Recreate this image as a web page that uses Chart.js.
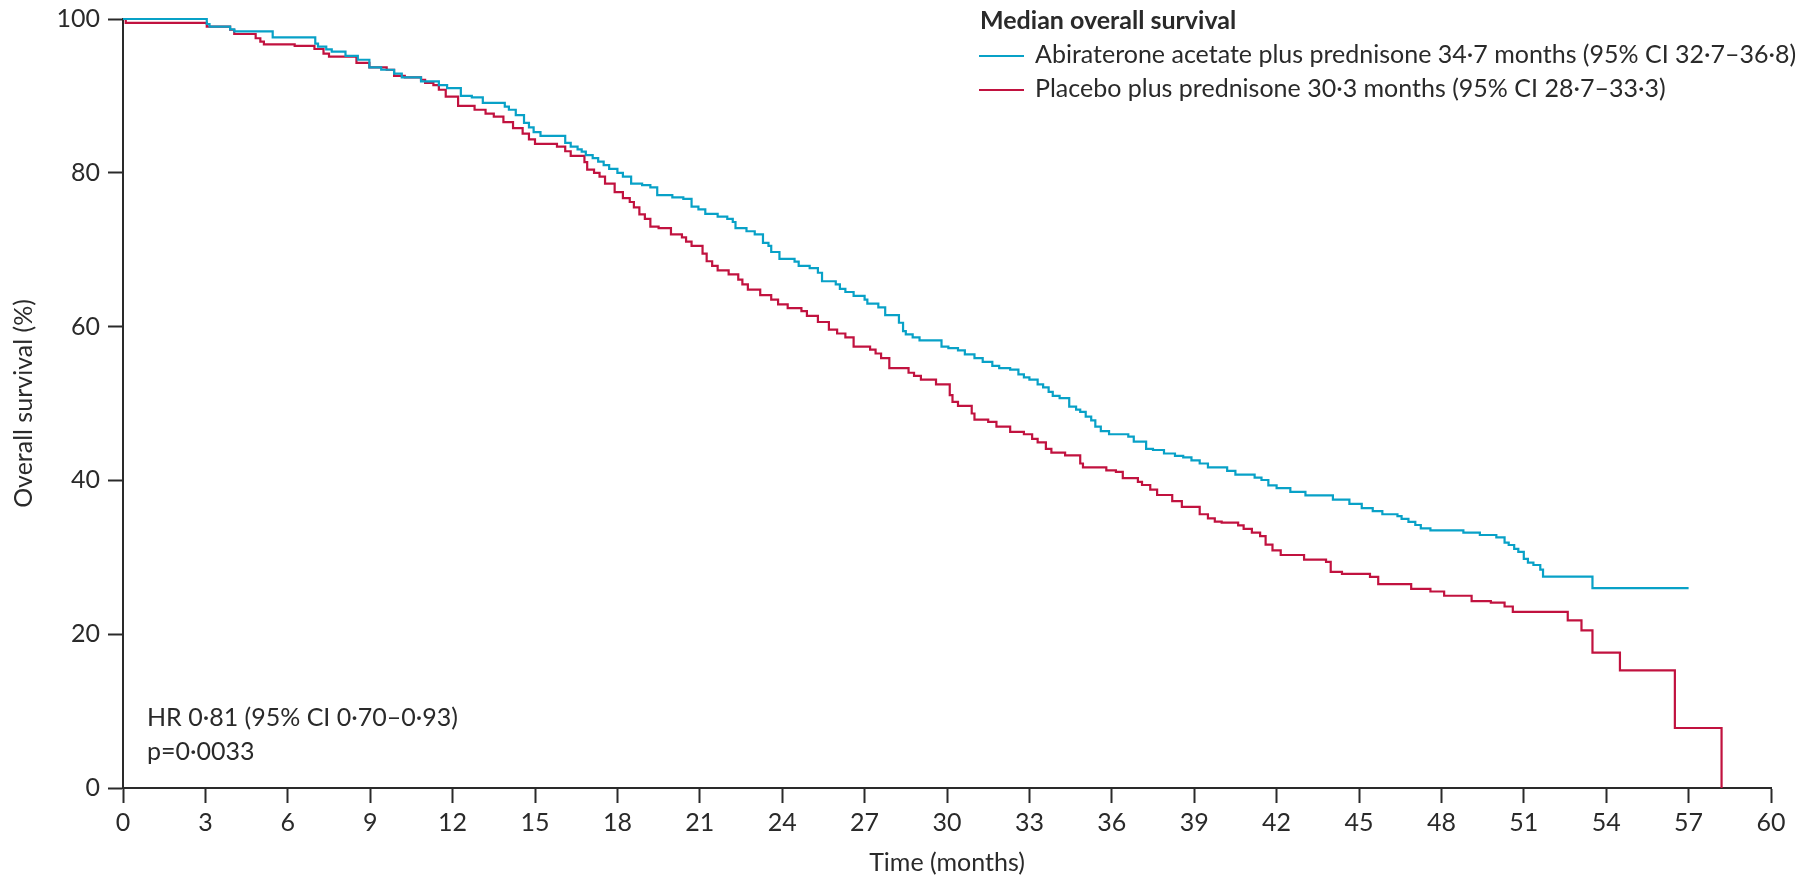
<!DOCTYPE html>
<html>
<head>
<meta charset="utf-8">
<script src="https://cdn.jsdelivr.net/npm/chart.js@4.4.1/dist/chart.umd.min.js"></script>
<style>
  html, body { margin: 0; padding: 0; background: #ffffff; }
  #wrap { width: 1802px; height: 881px; position: relative; }
  canvas { display: block; }
</style>
</head>
<body>
<div id="wrap"><canvas id="km" width="1802" height="881"></canvas></div>
<script>
// Kaplan-Meier overall survival, two arms.
const xTicks = [0, 3, 6, 9, 12, 15, 18, 21, 24, 27, 30, 33, 36, 39, 42, 45, 48, 51, 54, 57, 60];
const yTicks = [0, 20, 40, 60, 80, 100];

// Abiraterone acetate plus prednisone: event times (months) and survival after each step (%)
const abiTime = [0, 3.05, 3.15, 3.9, 4.05, 5.45, 7.0, 7.1, 7.4, 7.6, 8.1, 8.55, 8.97, 9.4, 9.87, 10.15, 10.85, 11.5, 11.8, 12.3,
  12.7, 13.1, 13.9, 14.05, 14.3, 14.6, 14.78, 14.95, 15.2, 16.1, 16.3, 16.55, 16.7, 16.85, 17.1, 17.3, 17.5, 17.7, 18.0, 18.2,
  18.5, 18.9, 19.2, 19.45, 20.0, 20.4, 20.7, 20.95, 21.2, 21.65, 22.0, 22.2, 22.3, 22.7, 23.0, 23.3, 23.5, 23.6, 23.9, 24.45,
  24.6, 25.0, 25.3, 25.45, 25.95, 26.1, 26.3, 26.6, 27.0, 27.1, 27.5, 27.75, 28.25, 28.4, 28.5, 28.75, 29.0, 29.8, 30.05, 30.4,
  30.65, 31.0, 31.3, 31.65, 31.9, 32.3, 32.6, 32.8, 33.0, 33.3, 33.5, 33.7, 33.85, 34.1, 34.45, 34.7, 34.85, 35.05, 35.25, 35.4,
  35.6, 35.9, 36.6, 36.8, 37.25, 37.5, 37.9, 38.3, 38.6, 38.9, 39.2, 39.5, 40.2, 40.5, 41.2, 41.45, 41.7, 42.0, 42.5, 43.05,
  44.05, 44.65, 45.1, 45.5, 45.85, 46.4, 46.55, 46.8, 47.05, 47.25, 47.6, 48.8, 49.4, 50.0, 50.3, 50.45, 50.65, 50.8, 51.0, 51.15,
  51.35, 51.6, 51.7, 53.5, 57.0];
const abiSurv = [100, 99.35, 99.0, 98.65, 98.4, 97.6, 96.8, 96.4, 96.05, 95.75, 95.2, 94.7, 93.7, 93.4, 92.9, 92.4, 91.9, 91.4, 91.0, 90.0,
  89.8, 89.1, 88.6, 88.2, 87.5, 86.5, 85.9, 85.3, 84.8, 83.9, 83.4, 83.05, 82.75, 82.3, 81.9, 81.45, 81.0, 80.5, 80.0, 79.5,
  78.6, 78.4, 78.1, 77.1, 76.8, 76.6, 75.6, 75.25, 74.65, 74.3, 74.0, 73.6, 72.8, 72.4, 72.0, 70.9, 70.5, 69.7, 68.8, 68.45,
  67.9, 67.6, 67.0, 65.9, 65.5, 64.9, 64.5, 64.0, 63.5, 63.0, 62.5, 61.5, 60.5, 59.4, 59.0, 58.6, 58.2, 57.4, 57.2, 56.9,
  56.4, 55.9, 55.4, 54.9, 54.6, 54.4, 53.8, 53.4, 53.1, 52.5, 52.1, 51.5, 51.0, 50.7, 49.6, 49.2, 48.9, 48.3, 47.8, 47.0,
  46.4, 46.0, 45.7, 45.05, 44.1, 43.95, 43.5, 43.2, 43.0, 42.6, 42.2, 41.7, 41.25, 40.75, 40.35, 40.05, 39.35, 39.0, 38.5, 38.05,
  37.5, 36.95, 36.4, 36.0, 35.6, 35.35, 35.0, 34.6, 34.2, 33.75, 33.5, 33.2, 32.9, 32.6, 31.9, 31.6, 31.1, 30.7, 29.8, 29.3,
  29.0, 28.4, 27.5, 26.0, 26.0];

// Placebo plus prednisone: event times (months) and survival after each step (%)
const plaTime = [0, 0.1, 3.05, 3.9, 4.05, 4.83, 5.0, 5.13, 6.25, 6.97, 7.3, 7.5, 8.5, 8.97, 9.6, 9.87, 10.26, 10.85, 11.0, 11.3,
  11.5, 11.75, 12.2, 12.8, 13.2, 13.5, 13.85, 14.2, 14.55, 14.78, 15.0, 15.8, 16.1, 16.3, 16.8, 16.9, 17.15, 17.35, 17.55, 17.9,
  18.2, 18.45, 18.6, 18.8, 19.0, 19.2, 19.5, 19.95, 20.35, 20.5, 20.7, 21.1, 21.25, 21.45, 21.65, 22.05, 22.4, 22.55, 22.75, 23.2,
  23.6, 23.85, 24.2, 24.7, 24.9, 25.3, 25.7, 26.0, 26.3, 26.6, 27.2, 27.4, 27.6, 27.9, 28.6, 28.8, 29.05, 29.6, 30.1, 30.2,
  30.4, 30.9, 31.0, 31.5, 31.8, 32.3, 32.8, 33.1, 33.3, 33.6, 33.8, 34.3, 34.85, 34.95, 35.8, 36.15, 36.4, 36.95, 37.1, 37.4,
  37.65, 38.2, 38.55, 39.2, 39.5, 39.75, 40.0, 40.6, 40.8, 41.1, 41.4, 41.6, 41.85, 42.15, 43.0, 43.8, 43.97, 44.38, 45.4, 45.7,
  46.9, 47.6, 48.1, 49.1, 49.8, 50.3, 50.6, 52.6, 53.1, 53.5, 54.5, 56.5, 58.2];
const plaSurv = [100, 99.5, 99.0, 98.6, 98.05, 97.5, 97.05, 96.7, 96.5, 96.1, 95.5, 95.1, 94.3, 93.7, 93.4, 92.6, 92.4, 92.1, 91.7, 91.4,
  90.8, 89.9, 88.7, 88.2, 87.7, 87.3, 86.6, 85.8, 85.1, 84.35, 83.75, 83.4, 82.8, 82.2, 81.4, 80.4, 80.0, 79.5, 78.6, 77.5,
  76.7, 76.2, 75.5, 74.6, 74.0, 73.0, 72.8, 72.0, 71.6, 71.05, 70.5, 69.5, 68.5, 67.9, 67.3, 66.8, 66.1, 65.5, 64.8, 64.1,
  63.5, 62.9, 62.4, 62.0, 61.4, 60.6, 59.6, 59.1, 58.6, 57.4, 57.0, 56.5, 55.9, 54.6, 54.0, 53.6, 53.1, 52.5, 51.1, 50.2,
  49.7, 48.7, 47.9, 47.6, 47.0, 46.3, 46.0, 45.4, 44.95, 44.1, 43.6, 43.25, 42.2, 41.7, 41.3, 41.1, 40.3, 39.8, 39.4, 38.8,
  38.1, 37.3, 36.55, 35.6, 35.05, 34.65, 34.5, 34.15, 33.7, 33.2, 32.75, 31.65, 30.9, 30.3, 29.7, 29.4, 28.1, 27.85, 27.45, 26.5,
  25.9, 25.55, 25.0, 24.3, 24.1, 23.6, 22.9, 21.8, 20.5, 17.6, 15.3, 7.8, 0];

const seriesNames = [
  'Abiraterone acetate plus prednisone 34·7 months (95% CI 32·7–36·8)',
  'Placebo plus prednisone 30·3 months (95% CI 28·7–33·3)'
];
const seriesColors = ['#08a1c7', '#c1123f'];
const legendTitle = 'Median overall survival';
const statsLines = ['HR 0·81 (95% CI 0·70–0·93)', 'p=0·0033'];
const xTitle = 'Time (months)';
const yTitle = 'Overall survival (%)';

const FONT = 'Lato, "Noto Sans", sans-serif';
const FONT_SIZE = 25;
const INK = '#2a2a2a';

function toPoints(times, surv) {
  return times.map((t, i) => ({ x: t, y: surv[i] }));
}

// Legend block and hazard-ratio text drawn on top of the plot
const annotations = {
  id: 'kmAnnotations',
  afterDraw(chart) {
    const { ctx, chartArea } = chart;
    ctx.save();
    ctx.textBaseline = 'middle';
    ctx.textAlign = 'left';
    ctx.fillStyle = INK;

    const lx = chartArea.left + 856;
    ctx.font = `bold ${FONT_SIZE}px ${FONT}`;
    ctx.fillText(legendTitle, lx + 1, chartArea.top + 2);

    ctx.font = `${FONT_SIZE}px ${FONT}`;
    seriesNames.forEach((name, i) => {
      const y = chartArea.top + 37 + i * 34;
      ctx.strokeStyle = seriesColors[i];
      ctx.lineWidth = 2.2;
      ctx.beginPath();
      ctx.moveTo(lx, y);
      ctx.lineTo(lx + 45, y);
      ctx.stroke();
      ctx.fillStyle = INK;
      ctx.fillText(name, lx + 56, y - 1);
    });

    statsLines.forEach((line, i) => {
      ctx.fillText(line, chartArea.left + 24, chartArea.bottom - 70 + i * 34);
    });
    ctx.restore();
  }
};

new Chart(document.getElementById('km'), {
  type: 'line',
  data: {
    datasets: [
      {
        label: seriesNames[0],
        data: toPoints(abiTime, abiSurv),
        borderColor: seriesColors[0],
        borderWidth: 2.2,
        stepped: 'before',
        pointRadius: 0,
        fill: false,
        clip: 6
      },
      {
        label: seriesNames[1],
        data: toPoints(plaTime, plaSurv),
        borderColor: seriesColors[1],
        borderWidth: 2.2,
        stepped: 'before',
        pointRadius: 0,
        fill: false,
        clip: 6
      }
    ]
  },
  options: {
    responsive: false,
    devicePixelRatio: 1,
    animation: false,
    events: [],
    layout: { padding: { left: 0, top: 19, right: 31, bottom: 0 } },
    plugins: {
      legend: { display: false },
      tooltip: { enabled: false }
    },
    scales: {
      x: {
        type: 'linear',
        min: 0,
        max: 60,
        afterBuildTicks(scale) { scale.ticks = xTicks.map(v => ({ value: v })); },
        afterFit(scale) { scale.height = 93; },
        border: { display: true, color: INK, width: 2 },
        grid: { drawOnChartArea: false, drawTicks: true, tickLength: 15, tickWidth: 2, tickColor: INK },
        ticks: { color: INK, font: { family: FONT, size: FONT_SIZE }, padding: 5, maxRotation: 0, autoSkip: false },
        title: { display: true, text: xTitle, color: INK, font: { family: FONT, size: FONT_SIZE }, padding: { top: 0, bottom: 3 } }
      },
      y: {
        type: 'linear',
        min: 0,
        max: 100,
        afterBuildTicks(scale) { scale.ticks = yTicks.map(v => ({ value: v })); },
        afterFit(scale) {
          // fixed axis band; the plot top is set by the layout padding alone
          scale.width = 123;
          scale.paddingTop = 0;
          scale.paddingBottom = 0;
        },
        border: { display: true, color: INK, width: 2 },
        grid: { drawOnChartArea: false, drawTicks: true, tickLength: 15, tickWidth: 2, tickColor: INK },
        ticks: { color: INK, font: { family: FONT, size: FONT_SIZE }, padding: 8, autoSkip: false },
        title: { display: true, text: yTitle, color: INK, font: { family: FONT, size: FONT_SIZE }, padding: { top: 9, bottom: 0 } }
      }
    }
  },
  plugins: [annotations]
});
</script>
</body>
</html>
